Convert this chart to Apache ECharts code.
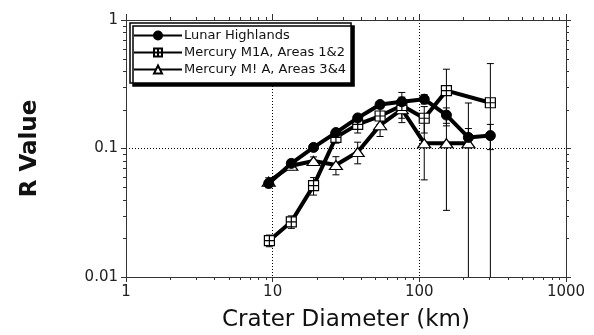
<!DOCTYPE html>
<html>
<head>
<meta charset="utf-8">
<script src="https://cdn.jsdelivr.net/npm/echarts@6/dist/echarts.min.js"></script>
<style>
  html, body { margin: 0; padding: 0; background: #fff; }
  #chart { width: 594px; height: 335px; }
</style>
</head>
<body>
<div id="chart"></div>
<script>
// Crater diameter (km) and R values
const lunarD = [9.4, 13.4, 19, 27, 38, 54, 76, 108, 153, 216, 305];
const lunarR = [0.0535, 0.0766, 0.102, 0.133, 0.173, 0.220, 0.231, 0.242, 0.182, 0.122, 0.126];
const lunarErr = [0.004, 0.005, 0.006, 0.008, 0.01, 0.012, 0.02, 0.02, 0.025, 0.021, 0.028];

const m12D = [9.5, 13.4, 19, 27, 38, 54, 76, 108, 153, 305];
const m12R = [0.0192, 0.0269, 0.0514, 0.122, 0.154, 0.179, 0.216, 0.172, 0.282, 0.227];
const m12Err = [0.002, 0.003, 0.008, 0.012, 0.022, 0.025, 0.057, 0.04, 0.132, 0.231];

const m34D = [9.4, 13.4, 19, 27, 38, 54, 76, 108, 153, 216];
const m34R = [0.0552, 0.0735, 0.080, 0.0744, 0.094, 0.152, 0.202, 0.110, 0.110, 0.110];
const m34Err = [0.004, 0.005, 0.006, 0.012, 0.018, 0.028, 0.03, 0.053, 0.077, 0.116];

const seriesNames = ['Lunar Highlands', 'Mercury M1A, Areas 1&2', 'Mercury M! A, Areas 3&4'];

// minor tick values (2..9 of each decade)
const xMinorTicks = [2, 3, 4, 5, 6, 7, 8, 9, 20, 30, 40, 50, 60, 70, 80, 90, 200, 300, 400, 500, 600, 700, 800, 900];
const yMinorTicks = [0.02, 0.03, 0.04, 0.05, 0.06, 0.07, 0.08, 0.09, 0.2, 0.3, 0.4, 0.5, 0.6, 0.7, 0.8, 0.9];

const FONT = 'DejaVu Sans';
const AXIS_COLOR = '#333';

const chart = echarts.init(document.getElementById('chart'));

const zip = (xs, ys) => xs.map((x, i) => [x, ys[i]]);
const errData = (xs, ys, es) => xs.map((x, i) => [x, Math.max(ys[i] - es[i], 0.001), ys[i] + es[i]]);

const squarePlus = 'path://M0 0 H10 V10 H0 Z M5 0 V10 M0 5 H10';

function errorBars(params, api) {
  const top = api.coord([api.value(0), api.value(2)]);
  const bot = api.coord([api.value(0), api.value(1)]);
  const w = 3.5;
  const style = { stroke: '#000', lineWidth: 1 };
  return {
    type: 'group',
    children: [
      { type: 'line', shape: { x1: top[0], y1: top[1], x2: bot[0], y2: bot[1] }, style },
      { type: 'line', shape: { x1: top[0] - w, y1: top[1], x2: top[0] + w, y2: top[1] }, style },
      { type: 'line', shape: { x1: bot[0] - w, y1: bot[1], x2: bot[0] + w, y2: bot[1] }, style }
    ]
  };
}

function xMinor(params, api) {
  const cs = params.coordSys;
  const p = api.coord([api.value(0), api.value(1)]);
  const style = { stroke: AXIS_COLOR, lineWidth: 1 };
  const x = Math.round(p[0]) + 0.5;
  return {
    type: 'group',
    children: [
      { type: 'line', shape: { x1: x, y1: cs.y + cs.height, x2: x, y2: cs.y + cs.height + 3 }, style },
      { type: 'line', shape: { x1: x, y1: cs.y, x2: x, y2: cs.y - 3 }, style }
    ]
  };
}

function yMinor(params, api) {
  const cs = params.coordSys;
  const p = api.coord([api.value(0), api.value(1)]);
  const style = { stroke: AXIS_COLOR, lineWidth: 1 };
  const y = Math.round(p[1]) + 0.5;
  return {
    type: 'group',
    children: [
      { type: 'line', shape: { x1: cs.x, y1: y, x2: cs.x - 3, y2: y }, style },
      { type: 'line', shape: { x1: cs.x + cs.width, y1: y, x2: cs.x + cs.width + 3, y2: y }, style }
    ]
  };
}

const fmt = v => String(+(+v).toPrecision(3));

const option = {
  animation: false,
  backgroundColor: '#fff',
  grid: { left: 126, right: 28, top: 20, bottom: 58, outerBoundsMode: 'none' },
  legend: {
    data: seriesNames,
    orient: 'vertical',
    left: 130,
    top: 23,
    itemWidth: 48,
    itemHeight: 10,
    itemGap: 4,
    padding: [6, 5, 7, 3],
    borderColor: '#000',
    borderWidth: 1.5,
    borderRadius: 0,
    backgroundColor: '#fff',
    shadowColor: '#000',
    shadowBlur: 0,
    shadowOffsetX: 3,
    shadowOffsetY: 3,
    textStyle: { fontFamily: FONT, fontSize: 13, color: '#111', padding: [0, 0, 0, -3] }
  },
  xAxis: [
    {
      type: 'log', logBase: 10, min: 1, max: 1000, position: 'bottom',
      axisLine: { onZero: false, lineStyle: { color: AXIS_COLOR, width: 1 } },
      axisTick: { length: 5, lineStyle: { color: AXIS_COLOR } },
      axisLabel: { fontFamily: FONT, fontSize: 15, color: '#222', margin: 8, formatter: fmt },
      splitLine: { show: true, lineStyle: { color: '#000', type: [1, 2], width: 1 } },
      name: 'Crater Diameter (km)', nameLocation: 'middle', nameGap: 32,
      nameTextStyle: { fontFamily: FONT, fontSize: 23, color: '#111' }
    },
    {
      type: 'log', logBase: 10, min: 1, max: 1000, position: 'top',
      axisLine: { onZero: false, lineStyle: { color: AXIS_COLOR, width: 1 } },
      axisTick: { length: 6, lineStyle: { color: AXIS_COLOR } },
      axisLabel: { show: false },
      splitLine: { show: false }
    }
  ],
  yAxis: [
    {
      type: 'log', logBase: 10, min: 0.01, max: 1, position: 'left',
      axisLine: { onZero: false, lineStyle: { color: AXIS_COLOR, width: 1 } },
      axisTick: { length: 5, lineStyle: { color: AXIS_COLOR } },
      axisLabel: { fontFamily: FONT, fontSize: 15, color: '#222', margin: 8, formatter: fmt },
      splitLine: { show: true, lineStyle: { color: '#000', type: [1, 2], width: 1 } },
      name: 'R Value', nameLocation: 'middle', nameGap: 84, nameRotate: 90,
      nameTextStyle: { fontFamily: FONT, fontSize: 23, fontWeight: 'bold', color: '#111' }
    },
    {
      type: 'log', logBase: 10, min: 0.01, max: 1, position: 'right',
      axisLine: { onZero: false, lineStyle: { color: AXIS_COLOR, width: 1 } },
      axisTick: { length: 5, lineStyle: { color: AXIS_COLOR } },
      axisLabel: { show: false },
      splitLine: { show: false }
    }
  ],
  series: [
    { type: 'custom', renderItem: xMinor, data: xMinorTicks.map(v => [v, 0.01]), clip: false, silent: true, z: 1 },
    { type: 'custom', renderItem: yMinor, data: yMinorTicks.map(v => [1, v]), clip: false, silent: true, z: 1 },
    { type: 'custom', renderItem: errorBars, data: errData(lunarD, lunarR, lunarErr), clip: true, z: 1, encode: { x: 0, y: [1, 2] } },
    { type: 'custom', renderItem: errorBars, data: errData(m12D, m12R, m12Err), clip: true, z: 1, encode: { x: 0, y: [1, 2] } },
    { type: 'custom', renderItem: errorBars, data: errData(m34D, m34R, m34Err), clip: true, z: 1, encode: { x: 0, y: [1, 2] } },
    {
      name: seriesNames[0], type: 'line', data: zip(lunarD, lunarR),
      symbol: 'circle', symbolSize: 10,
      lineStyle: { color: '#000', width: 4 },
      itemStyle: { color: '#000', borderColor: '#000', borderWidth: 1 },
      z: 4
    },
    {
      name: seriesNames[1], type: 'line', data: zip(m12D, m12R),
      symbol: squarePlus, symbolSize: 10,
      lineStyle: { color: '#000', width: 4 },
      itemStyle: { color: '#fff', borderColor: '#000', borderWidth: 1.2 },
      z: 3
    },
    {
      name: seriesNames[2], type: 'line', data: zip(m34D, m34R),
      symbol: 'triangle', symbolSize: [13, 9],
      lineStyle: { color: '#000', width: 4 },
      itemStyle: { color: '#fff', borderColor: '#000', borderWidth: 1.2 },
      z: 2
    }
  ]
};

chart.setOption(option);
</script>
</body>
</html>
